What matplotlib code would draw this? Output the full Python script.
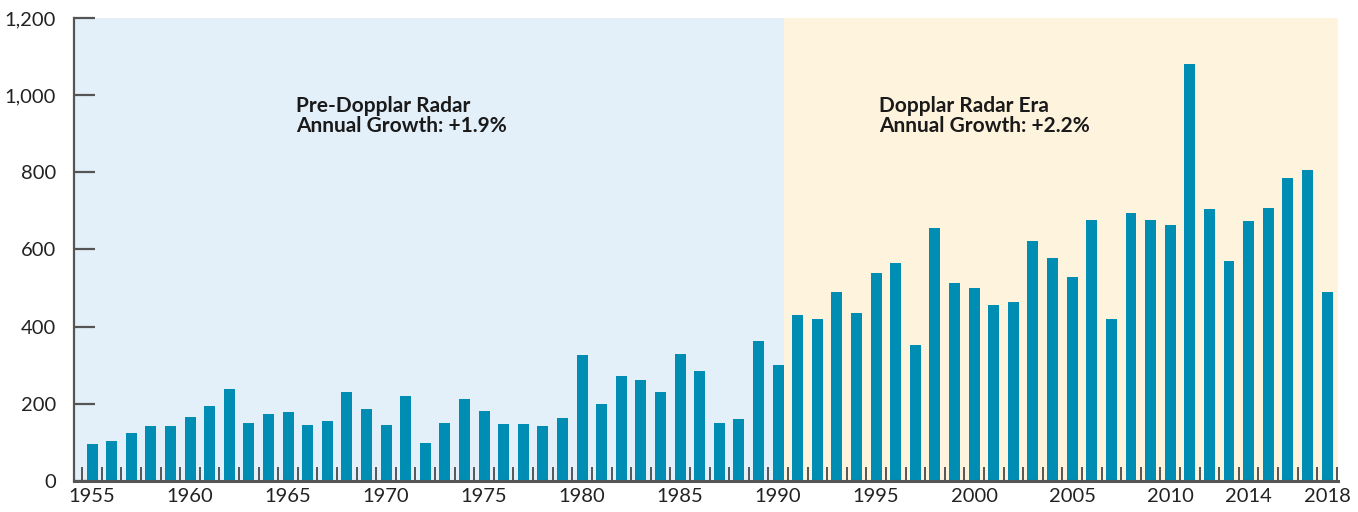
import matplotlib
matplotlib.use("Agg")
import matplotlib.pyplot as plt
from matplotlib.ticker import FuncFormatter, FixedLocator

plt.rcParams['font.family'] = ['Lato', 'DejaVu Sans']

years = list(range(1955, 2019))
counts = [
    95, 103, 125, 142, 142, 165, 194, 238, 150, 173,
    178, 145, 155, 230, 186, 145, 220, 98, 150, 212,
    181, 148, 148, 142, 163, 327, 199, 272, 262, 231,
    330, 285, 150, 161, 364, 301, 431, 420, 490, 436,
    540, 566, 352, 656, 513, 500, 456, 464, 622, 578,
    529, 677, 419, 695, 677, 664, 1080, 706, 571, 673,
    708, 786, 805, 490,
]
tick_years = [1955, 1960, 1965, 1970, 1975, 1980, 1985, 1990, 1995,
              2000, 2005, 2010, 2014, 2018]
y_ticks = [0, 200, 400, 600, 800, 1000, 1200]
pre_era_lines = ["Pre-Dopplar Radar", "Annual Growth: +1.9%"]
post_era_lines = ["Dopplar Radar Era", "Annual Growth: +2.2%"]

bar_color = "#008db3"
pre_color = "#e3f0fa"
post_color = "#fef3dc"
axis_color = "#555555"
label_color = "#222222"
bar_width = 0.56

fig = plt.figure(figsize=(13.58, 5.12), dpi=100)
ax = fig.add_axes([74 / 1358, 31 / 512, 1264 / 1358, 463 / 512])

x_min = years[0] - 0.92
x_max = years[-1] + 0.56
split = 1990 + bar_width / 2

# shaded eras behind the bars
ax.axvspan(x_min, split, color=pre_color, zorder=0, lw=0)
ax.axvspan(split, x_max, color=post_color, zorder=0, lw=0)

ax.bar(years, counts, width=bar_width, color=bar_color, zorder=2)

ax.set_xlim(x_min, x_max)
ax.set_ylim(0, 1200)

ax.set_yticks(y_ticks)
ax.yaxis.set_major_formatter(FuncFormatter(lambda v, p: f"{int(v):,}"))
ax.tick_params(axis='y', direction='in', length=15, width=1.6,
               color=axis_color, labelsize=14.5, labelcolor=label_color, pad=13)

ax.set_xticks(tick_years)
ax.tick_params(axis='x', which='major', length=0, labelsize=14.5,
               labelcolor=label_color, pad=5)
ax.xaxis.set_minor_locator(FixedLocator([y - 0.5 for y in years] + [years[-1] + 0.5]))
ax.tick_params(axis='x', which='minor', direction='in', length=10, width=1.4,
               color=axis_color)

for side in ("top", "right"):
    ax.spines[side].set_visible(False)
for side in ("left", "bottom"):
    ax.spines[side].set_color(axis_color)
    ax.spines[side].set_zorder(3)
ax.spines["left"].set_linewidth(1.6)
ax.spines["bottom"].set_linewidth(2.2)

# era annotations
line_y = [957, 905]
for lines, x0 in ((pre_era_lines, 1965.4), (post_era_lines, 1995.15)):
    for txt, yy in zip(lines, line_y):
        ax.text(x0, yy, txt, fontsize=15, fontweight='bold', color="#1a1a1a",
                va='baseline', ha='left')

fig.savefig("out.png", dpi=100)
